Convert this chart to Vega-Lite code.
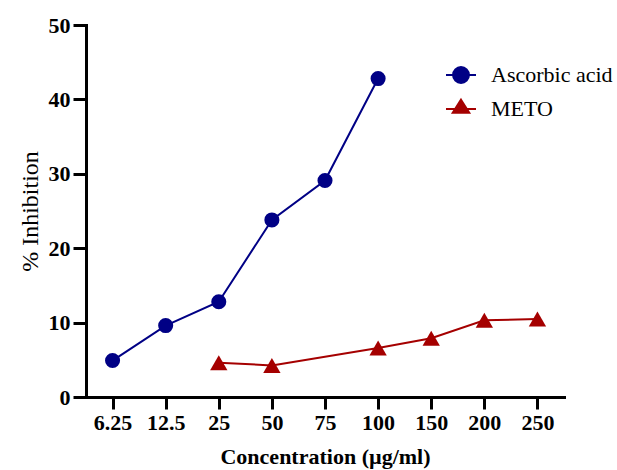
{
  "$schema": "https://vega.github.io/schema/vega-lite/v6.json",
  "width": 478,
  "height": 372,
  "autosize": {"type": "none"},
  "padding": {"left": 86, "top": 25, "right": 53, "bottom": 73},
  "background": "white",
  "config": {
    "view": {"stroke": null},
    "font": "Liberation Serif",
    "axis": {
      "labelFont": "Liberation Serif",
      "titleFont": "Liberation Serif",
      "labelColor": "#000",
      "titleColor": "#000",
      "domainColor": "#000",
      "tickColor": "#000",
      "domainWidth": 3,
      "tickWidth": 3,
      "domainCap": "square",
      "grid": false
    },
    "legend": {
      "symbolSize": 900,
      "symbolStrokeWidth": 2,
      "labelFont": "Liberation Serif",
      "labelFontSize": 22,
      "labelColor": "#000",
      "labelOffset": 14,
      "labelLimit": 300,
      "rowPadding": 4,
      "padding": 0
    }
  },
  "data": {
    "values": [
      {"conc": "6.25", "series": "Ascorbic acid", "value": 4.9},
      {"conc": "12.5", "series": "Ascorbic acid", "value": 9.6},
      {"conc": "25", "series": "Ascorbic acid", "value": 12.8},
      {"conc": "50", "series": "Ascorbic acid", "value": 23.8},
      {"conc": "75", "series": "Ascorbic acid", "value": 29.1},
      {"conc": "100", "series": "Ascorbic acid", "value": 42.8},
      {"conc": "25", "series": "METO", "value": 4.6},
      {"conc": "50", "series": "METO", "value": 4.25},
      {"conc": "100", "series": "METO", "value": 6.6},
      {"conc": "150", "series": "METO", "value": 7.9},
      {"conc": "200", "series": "METO", "value": 10.3},
      {"conc": "250", "series": "METO", "value": 10.5}
    ]
  },
  "encoding": {
    "x": {
      "field": "conc",
      "type": "ordinal",
      "scale": {"type": "point", "padding": 0.5, "domain": ["6.25", "12.5", "25", "50", "75", "100", "150", "200", "250"]},
      "axis": {
        "title": "Concentration (µg/ml)",
        "labelAngle": 0,
        "labelFontSize": 22,
        "labelFontWeight": "bold",
        "labelPadding": 3,
        "tickSize": 12,
        "titleFontSize": 22,
        "titleFontWeight": "bold",
        "titlePadding": 13
      }
    },
    "y": {
      "field": "value",
      "type": "quantitative",
      "scale": {"domain": [0, 50], "nice": false},
      "axis": {
        "title": "% Inhibition",
        "values": [0, 10, 20, 30, 40, 50],
        "labelFontSize": 22,
        "labelFontWeight": "bold",
        "labelPadding": 3,
        "tickSize": 13,
        "titleFontSize": 24,
        "titleFontWeight": "normal",
        "titlePadding": 6
      }
    }
  },
  "layer": [
    {
      "transform": [{"filter": "datum.series === 'Ascorbic acid'"}],
      "mark": {"type": "line", "strokeWidth": 2, "color": "#000085"}
    },
    {
      "transform": [{"filter": "datum.series === 'METO'"}],
      "mark": {"type": "line", "strokeWidth": 2, "color": "#A50000"}
    },
    {
      "transform": [{"filter": "datum.series === 'Ascorbic acid'"}],
      "mark": {"type": "point", "filled": true, "shape": "circle", "size": 227, "opacity": 1, "color": "#000085"}
    },
    {
      "transform": [{"filter": "datum.series === 'METO'"}],
      "mark": {"type": "point", "filled": true, "shape": "triangle-up", "size": 300, "opacity": 1, "color": "#A50000"}
    },
    {
      "transform": [{"filter": "datum.series === 'Ascorbic acid'"}],
      "mark": {"type": "point", "filled": true, "opacity": 0, "strokeWidth": 2, "fill": "#000085", "stroke": "#000085"},
      "encoding": {
        "fill": {
          "field": "series",
          "type": "nominal",
          "scale": {"domain": ["Ascorbic acid"], "range": ["#000085"]},
          "legend": {
            "title": null, "orient": "none", "legendX": 359, "legendY": 34,
            "symbolType": "M-1,0L1,0M0.53,0A0.53,0.53,0,1,1,-0.53,0A0.53,0.53,0,1,1,0.53,0Z",
            "symbolFillColor": "#000085", "symbolStrokeColor": "#000085",
            "labelFont": "Liberation Serif"
          }
        }
      }
    },
    {
      "transform": [{"filter": "datum.series === 'METO'"}],
      "mark": {"type": "point", "filled": true, "opacity": 0, "strokeWidth": 2, "fill": "#A50000", "stroke": "#A50000"},
      "encoding": {
        "stroke": {
          "field": "series",
          "type": "nominal",
          "scale": {"domain": ["METO"], "range": ["#A50000"]},
          "legend": {
            "title": null, "orient": "none", "legendX": 359, "legendY": 68,
            "symbolType": "M-1,0L1,0M0,-0.62L0.55,0.25L-0.55,0.25Z",
            "symbolFillColor": "#A50000", "symbolStrokeColor": "#A50000",
            "labelFont": "Liberation Serif"
          }
        }
      }
    }
  ]
}
